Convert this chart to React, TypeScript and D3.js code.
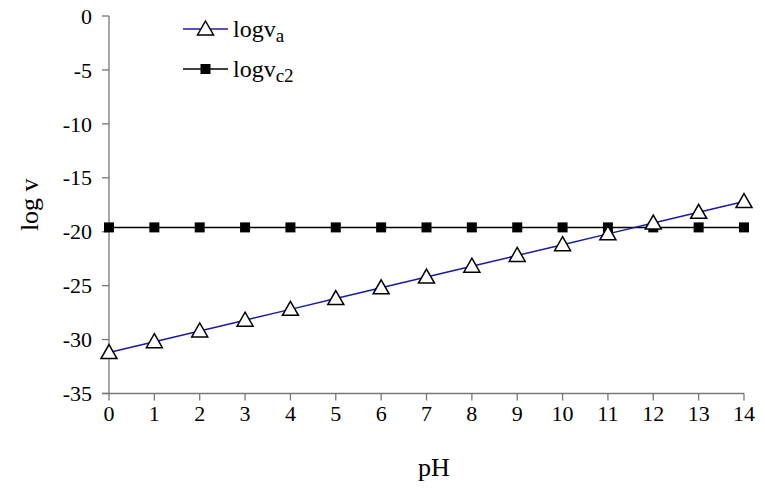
import * as d3 from "d3";

const phValues = [0, 1, 2, 3, 4, 5, 6, 7, 8, 9, 10, 11, 12, 13, 14];
const logVa = [-31.2, -30.2, -29.2, -28.2, -27.2, -26.2, -25.2, -24.2, -23.2, -22.2, -21.2, -20.2, -19.2, -18.2, -17.2];
const logVc2 = [-19.6, -19.6, -19.6, -19.6, -19.6, -19.6, -19.6, -19.6, -19.6, -19.6, -19.6, -19.6, -19.6, -19.6, -19.6];
const yTicks = [0, -5, -10, -15, -20, -25, -30, -35];

const W = 765;
const H = 495;
const font = "Liberation Serif";

export default function App() {
  const x = d3.scaleLinear().domain([0, 14]).range([109, 744]);
  const y = d3.scaleLinear().domain([-35, 0]).range([393.5, 16]);

  const line = d3
    .line<number>()
    .x((d, i) => x(phValues[i]))
    .y((d) => y(d));

  const tri = (cx: number, cy: number) => {
    const s = 8;
    return `M${cx},${cy - s}L${cx + s},${cy + s * 0.75}L${cx - s},${cy + s * 0.75}Z`;
  };

  return (
    <svg
      width={W}
      height={H}
      style={{ position: "absolute", left: 0, top: 0, background: "#fff", fontFamily: font }}
    >
      {/* y axis */}
      <line x1={x(0)} x2={x(0)} y1={y(0)} y2={y(-35)} stroke="#777" strokeWidth={1.3} />
      {yTicks.map((t) => (
        <g key={t}>
          <line x1={x(0) - 7} x2={x(0)} y1={y(t)} y2={y(t)} stroke="#777" strokeWidth={1.3} />
          <text x={92} y={y(t)} dy="0.35em" textAnchor="end" fontSize={22} style={{ fontFamily: font }}>
            {t}
          </text>
        </g>
      ))}
      {/* x axis */}
      <line x1={x(0) - 7} x2={x(14)} y1={y(-35)} y2={y(-35)} stroke="#777" strokeWidth={1.3} />
      {phValues.map((t) => (
        <g key={t}>
          <line x1={x(t)} x2={x(t)} y1={y(-35)} y2={y(-35) + 7} stroke="#777" strokeWidth={1.3} />
          <text x={x(t)} y={421} textAnchor="middle" fontSize={22} style={{ fontFamily: font }}>
            {t}
          </text>
        </g>
      ))}
      <text x={434} y={476} textAnchor="middle" fontSize={26} style={{ fontFamily: font }}>
        pH
      </text>
      <text
        transform={`translate(38,${y(-17.5)}) rotate(-90)`}
        textAnchor="middle"
        fontSize={26}
        style={{ fontFamily: font }}
      >
        log v
      </text>

      {/* series */}
      <path d={line(logVc2) ?? ""} fill="none" stroke="#000" strokeWidth={1.5} />
      {logVc2.map((v, i) => (
        <rect key={i} x={x(phValues[i]) - 5} y={y(v) - 5} width={10} height={10} fill="#000" />
      ))}
      <path d={line(logVa) ?? ""} fill="none" stroke="#1a1aa0" strokeWidth={1.5} />
      {logVa.map((v, i) => (
        <path key={i} d={tri(x(phValues[i]), y(v))} fill="#fff" stroke="#000" strokeWidth={1.5} />
      ))}

      {/* legend */}
      <line x1={183} x2={228} y1={29} y2={29} stroke="#1a1aa0" strokeWidth={1.5} />
      <path d={tri(205.5, 29)} fill="#fff" stroke="#000" strokeWidth={1.5} />
      <text x={233} y={37} fontSize={24} style={{ fontFamily: font }}>
        logv<tspan fontSize={19} dy={5}>a</tspan>
      </text>
      <line x1={183} x2={228} y1={69} y2={69} stroke="#000" strokeWidth={1.5} />
      <rect x={200.5} y={64} width={10} height={10} fill="#000" />
      <text x={233} y={77} fontSize={24} style={{ fontFamily: font }}>
        logv<tspan fontSize={19} dy={5}>c2</tspan>
      </text>
    </svg>
  );
}
